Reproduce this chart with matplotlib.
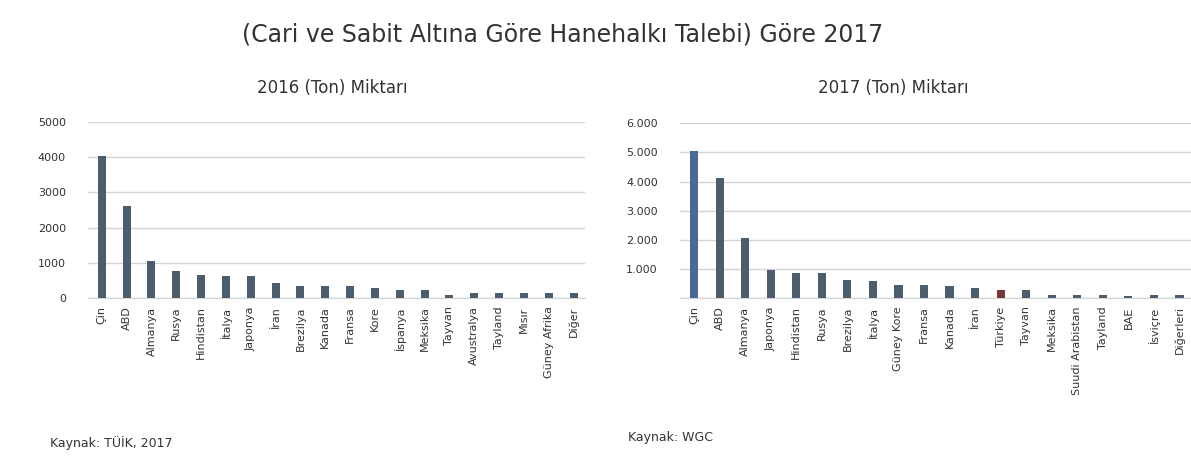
import matplotlib.pyplot as plt
from matplotlib.ticker import FuncFormatter

# sol grafik: 2016
ulkeler_16 = ["Çin", "ABD", "Almanya", "Rusya", "Hindistan", "İtalya", "Japonya",
              "İran", "Brezilya", "Kanada", "Fransa", "Kore", "İspanya", "Meksika",
              "Tayvan", "Avustralya", "Tayland", "Mısır", "Güney Afrika", "Diğer"]
ton_16 = [4020, 2610, 1040, 760, 650, 620, 620, 420, 340, 340, 330, 280, 230, 230,
          80, 150, 130, 140, 130, 150]

# sag grafik: 2017
ulkeler_17 = ["Çin", "ABD", "Almanya", "Japonya", "Hindistan", "Rusya", "Brezilya",
              "İtalya", "Güney Kore", "Fransa", "Kanada", "İran", "Türkiye", "Tayvan",
              "Meksika", "Suudi Arabistan", "Tayland", "BAE", "İsviçre", "Diğerleri"]
ton_17 = [5050, 4130, 2050, 950, 850, 850, 620, 580, 450, 450, 400, 330, 280, 280,
          100, 90, 90, 80, 90, 90]

baslik = "(Cari ve Sabit Altına Göre Hanehalkı Talebi) Göre 2017"
alt_baslik_16 = "2016 (Ton) Miktarı"
alt_baslik_17 = "2017 (Ton) Miktarı"
kaynak_16 = "Kaynak: TÜİK, 2017"
kaynak_17 = "Kaynak: WGC"

bar_renk = "#4c5e6e"
text_renk = "#333333"

fig = plt.figure(figsize=(11.91, 4.65), dpi=100)
fig.text(0.472, 0.925, baslik, ha="center", va="center", fontsize=17, color=text_renk)


def ciz(ax, ulkeler, tonlar, renkler, ymax, step, fmt):
    x = list(range(len(ulkeler)))
    ax.bar(x, tonlar, width=0.32, color=renkler, zorder=3)
    ax.set_xlim(-0.55, len(ulkeler) - 0.55)
    ax.set_ylim(0, ymax)
    ax.set_xticks(x)
    ax.set_xticklabels(ulkeler, rotation=90, fontsize=8, color=text_renk)
    ax.set_yticks(list(range(0, ymax + 1, step)))
    ax.yaxis.set_major_formatter(FuncFormatter(fmt))
    ax.tick_params(axis="y", labelsize=8, colors=text_renk, length=0, pad=16)
    ax.tick_params(axis="x", length=0, pad=6)
    ax.grid(axis="y", color="#d4d4d4", linewidth=1, zorder=0)
    for s in ["top", "right", "left"]:
        ax.spines[s].set_visible(False)
    ax.spines["bottom"].set_color("#d4d4d4")


ax1 = fig.add_axes([0.074, 0.359, 0.417, 0.379])
ciz(ax1, ulkeler_16, ton_16, bar_renk, 5000, 1000, lambda v, p: "%d" % v)
fig.text(0.279, 0.81, alt_baslik_16, ha="center", va="center", fontsize=12, color=text_renk)

renk_17 = [bar_renk] * len(ulkeler_17)
renk_17[0] = "#4a6a96"
renk_17[ulkeler_17.index("Türkiye")] = "#7a3434"
ax2 = fig.add_axes([0.571, 0.359, 0.429, 0.376])
ciz(ax2, ulkeler_17, ton_17, renk_17, 6000, 1000,
    lambda v, p: "" if v == 0 else "{:,.0f}".format(v).replace(",", "."))
fig.text(0.75, 0.81, alt_baslik_17, ha="center", va="center", fontsize=12, color=text_renk)

fig.text(0.042, 0.038, kaynak_16, fontsize=9, color=text_renk)
fig.text(0.527, 0.052, kaynak_17, fontsize=9, color=text_renk)

fig.savefig("out.png", dpi=100)
